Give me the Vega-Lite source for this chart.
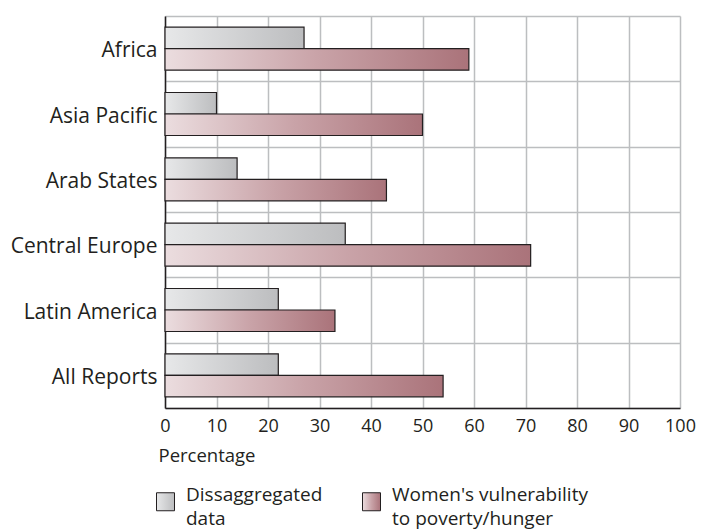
{
  "$schema": "https://vega.github.io/schema/vega-lite/v6.json",
  "width": 515,
  "height": 392,
  "autosize": {"type": "none"},
  "padding": {"left": 165, "top": 16, "right": 22, "bottom": 122},
  "background": "white",
  "config": {
    "view": {"stroke": null},
    "font": "Open Sans",
    "axis": {"labelColor": "#231f20", "titleColor": "#231f20"}
  },
  "data": {
    "values": [
      {"region": "Africa", "series": "Dissaggregated data", "value": 27},
      {"region": "Africa", "series": "Women's vulnerability to poverty/hunger", "value": 59},
      {"region": "Asia Pacific", "series": "Dissaggregated data", "value": 10},
      {"region": "Asia Pacific", "series": "Women's vulnerability to poverty/hunger", "value": 50},
      {"region": "Arab States", "series": "Dissaggregated data", "value": 14},
      {"region": "Arab States", "series": "Women's vulnerability to poverty/hunger", "value": 43},
      {"region": "Central Europe", "series": "Dissaggregated data", "value": 35},
      {"region": "Central Europe", "series": "Women's vulnerability to poverty/hunger", "value": 71},
      {"region": "Latin America", "series": "Dissaggregated data", "value": 22},
      {"region": "Latin America", "series": "Women's vulnerability to poverty/hunger", "value": 33},
      {"region": "All Reports", "series": "Dissaggregated data", "value": 22},
      {"region": "All Reports", "series": "Women's vulnerability to poverty/hunger", "value": 54}
    ]
  },
  "mark": {"type": "bar", "stroke": "#231f20", "strokeWidth": 1.2, "opacity": 1, "fillOpacity": 1},
  "encoding": {
    "y": {
      "field": "region",
      "type": "nominal",
      "sort": ["Africa", "Asia Pacific", "Arab States", "Central Europe", "Latin America", "All Reports"],
      "scale": {"paddingInner": 0, "paddingOuter": 0},
      "axis": {
        "title": null,
        "tickBand": "extent",
        "ticks": false,
        "grid": true,
        "gridColor": "#bcbec0",
        "gridWidth": 1.5,
        "gridOpacity": 1,
        "domainColor": "#231f20",
        "domainWidth": 1.5,
        "labelFontSize": 21,
        "labelPadding": 8,
        "labelOffset": 2
      }
    },
    "yOffset": {
      "field": "series",
      "type": "nominal",
      "sort": ["Dissaggregated data", "Women's vulnerability to poverty/hunger"],
      "scale": {"paddingInner": 0, "paddingOuter": 0.52}
    },
    "x": {
      "field": "value",
      "type": "quantitative",
      "scale": {"domain": [0, 100], "nice": false},
      "axis": {
        "title": "Percentage",
        "values": [0, 10, 20, 30, 40, 50, 60, 70, 80, 90, 100],
        "ticks": false,
        "grid": true,
        "gridColor": "#bcbec0",
        "gridWidth": 1.5,
        "gridOpacity": 1,
        "domainColor": "#231f20",
        "domainWidth": 1.5,
        "labelFontSize": 18,
        "labelPadding": 9,
        "labelFlush": false,
        "titleFontSize": 18.5,
        "titleFontWeight": "normal",
        "titleAnchor": "start",
        "titleAlign": "left",
        "titleBaseline": "middle",
        "titleX": -7,
        "titleY": 47
      }
    },
    "color": {
      "field": "series",
      "type": "nominal",
      "sort": ["Dissaggregated data", "Women's vulnerability to poverty/hunger"],
      "scale": {
        "range": [
          {"expr": "{'gradient': 'linear', 'x1': 0, 'y1': 0, 'x2': 1, 'y2': 0, 'stops': [{'offset': 0, 'color': '#e7e8e9'}, {'offset': 1, 'color': '#bcbdbf'}]}"},
          {"expr": "{'gradient': 'linear', 'x1': 0, 'y1': 0, 'x2': 1, 'y2': 0, 'stops': [{'offset': 0, 'color': '#ebdddf'}, {'offset': 0.5, 'color': '#c9a3a8'}, {'offset': 1, 'color': '#aa737a'}]}"}
        ]
      },
      "legend": {
        "orient": "none",
        "direction": "horizontal",
        "legendX": -9,
        "legendY": 476,
        "title": null,
        "padding": 0,
        "symbolType": "square",
        "symbolSize": 324,
        "symbolStrokeColor": "#231f20",
        "symbolStrokeWidth": 1,
        "symbolOpacity": 1,
        "labelFontSize": 19,
        "labelColor": "#231f20",
        "labelOffset": 11,
        "labelLimit": 300,
        "columnPadding": 37,
        "labelExpr": "datum.value == 'Dissaggregated data' ? ['Dissaggregated', 'data'] : [\"Women's vulnerability\", 'to poverty/hunger']",
        "encode": {"labels": {"update": {"lineHeight": {"value": 24}, "dy": {"value": -7}}}}
      }
    }
  }
}
